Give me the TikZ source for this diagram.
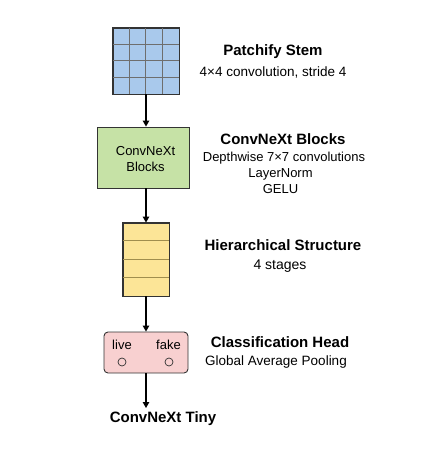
\documentclass[tikz,border=0pt]{standalone}
\usepackage{fontspec}
\setmainfont{Liberation Sans}
\usetikzlibrary{arrows.meta,calc}
\definecolor{gridblue}{HTML}{A9C9EC}
\definecolor{gridline}{HTML}{6E6E6E}
\definecolor{blockgreen}{HTML}{C6E2A6}
\definecolor{stageyellow}{HTML}{FCE597}
\definecolor{stageline}{HTML}{A08E4E}
\definecolor{headpink}{HTML}{F8D0D0}
\definecolor{edgegray}{HTML}{333333}
\tikzset{
  boxstyle/.style={draw=edgegray, line width=0.9pt, inner sep=0pt},
  flow/.style={line width=1.1pt, black, -{Triangle[width=6.5pt,length=6pt]}},
  headtxt/.style={font=\bfseries\fontsize{15}{18}\selectfont, inner sep=0pt},
  subtxt/.style={font=\fontsize{13.5}{16}\selectfont, inner sep=0pt, align=center},
  boxtxt/.style={font=\fontsize{13}{16}\selectfont, inner sep=0pt, align=center},
}
\begin{document}
\begin{tikzpicture}[x=1pt,y=-1pt]
\useasboundingbox (0,0) rectangle (422,459);
% Patchify stem grid
\node[boxstyle, fill=gridblue, minimum width=66pt, minimum height=66pt] (stem) at (146,61) {};
\foreach \i in {1,2,3} {
  \draw[gridline, line width=0.9pt] ($(stem.north west)+(16.5*\i,0)$) -- ($(stem.south west)+(16.5*\i,0)$);
  \draw[gridline, line width=0.9pt] ($(stem.north west)+(0,16.5*\i)$) -- ($(stem.north east)+(0,16.5*\i)$);
}
\draw[edgegray, line width=0.9pt] (stem.north west) rectangle (stem.south east);
% ConvNeXt blocks
\node[boxstyle, fill=blockgreen, minimum width=92pt, minimum height=61pt] (blocks) at (143,157.5) {};
\node[boxtxt] (blockstxt) at (145.5,159.5) {ConvNeXt\\Blocks};
% Hierarchical stages
\node[boxstyle, fill=stageyellow, minimum width=46pt, minimum height=73pt] (stages) at (146,259.5) {};
\foreach \i in {1,2,3} {
  \draw[stageline, line width=1pt] ($(stages.north west)+(0.5,18.25*\i)$) -- ($(stages.north east)+(-0.5,18.25*\i)$);
}
\draw[edgegray, line width=0.9pt] (stages.north west) rectangle (stages.south east);
% Classification head
\node[boxstyle, fill=headpink, rounded corners=4pt, minimum width=84pt, minimum height=41pt] (head) at (146,352.5) {};
\node[boxtxt] (live) at (122,345) {live};
\node[boxtxt] (fake) at (168.5,345) {fake};
\node[draw=edgegray, line width=0.7pt, circle, minimum size=8pt, inner sep=0pt] (clive) at (122,362) {};
\node[draw=edgegray, line width=0.7pt, circle, minimum size=8pt, inner sep=0pt] (cfake) at (169,362) {};
% Bottom label
\node[headtxt, anchor=base] (tiny) at (163,422) {ConvNeXt Tiny};
% Arrows
\draw[flow] (stem.south) -- (stem.south |- blocks.north);
\draw[flow] (stem.south |- blocks.south) -- (stages.north);
\draw[flow] (stages.south) -- (head.north);
\coordinate (tinytop) at (146,408);
\draw[flow] (head.south) -- (tinytop);
% Right side labels
\node[headtxt] (t1) at (273,52) {Patchify Stem};
\node[subtxt] (s1) at (273,72) {4×4 convolution, stride 4};
\node[headtxt] (t2) at (283,139) {ConvNeXt Blocks};
\node[subtxt, font=\fontsize{13}{16}\selectfont] (s2a) at (284,158) {Depthwise 7×7 convolutions};
\node[subtxt, font=\fontsize{13}{16}\selectfont] (s2b) at (280.5,174) {LayerNorm};
\node[subtxt, font=\fontsize{13}{16}\selectfont] (s2c) at (280.5,189) {GELU};
\node[headtxt] (t3) at (283,245) {Hierarchical Structure};
\node[subtxt, font=\fontsize{14}{16}\selectfont] (s3) at (280,266) {4 stages};
\node[headtxt] (t4) at (280,342) {Classification Head};
\node[subtxt] (s4) at (276,362) {Global Average Pooling};
\end{tikzpicture}
\end{document}
